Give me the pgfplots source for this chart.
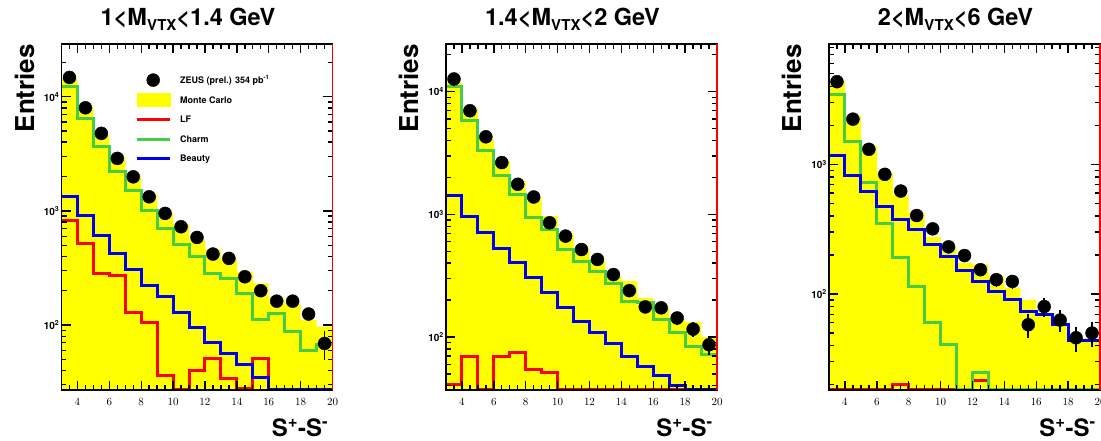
\documentclass[border=0pt]{standalone}
\usepackage{fontspec}
\setmainfont{TeX Gyre Heros}
\usepackage{pgfplots}
\usepackage{pgfplotstable}
\pgfplotsset{compat=1.18}

\definecolor{mcyellow}{RGB}{255,255,0}
\definecolor{lfred}{RGB}{255,0,0}
\definecolor{charmgreen}{RGB}{70,205,70}
\definecolor{beautyblue}{RGB}{0,0,240}

% Histograms: value of each bin at its left edge, last row repeats bin 19-20
\pgfplotstableread{
x  mc     lf   charm  beauty
3  14300  832  12400  1349
4  8200   519  6460   921
5  4600   284  3650   614
6  2980   270  2200   424
7  2060   128  1500   308
8  1390   105  1017   224
9  950    36   703    179
10 770    27   509    129
11 560    40   397    95
12 460    51   284    71
13 376    34   257    56
14 294    28   189    45
15 232    51   111    35
16 171    27   126    27
17 155    27   88     27
18 111    27   60     27
19 97     27   67     27
20 97     27   67     27
}\histA
\pgfplotstableread{
x     y      err
3.5   14770  200
4.5   8010   150
5.5   4780   110
6.5   2885   85
7.5   1990   70
8.5   1330   55
9.5   951    45
10.5  727    40
11.5  586    35
12.5  419    30
13.5  384    28
14.5  265    23
15.5  200    20
16.5  162    18
17.5  162    18
18.5  125    16
19.5  69     20
}\dataA

\pgfplotstableread{
x  mc     lf   charm  beauty
3  11800  41   11060  1413
4  7200   70   5800   968
5  4100   37   3300   708
6  2730   70   2060   524
7  1870   75   1457   403
8  1370   54   939    304
9  970    51   754    229
10 708    37   517    173
11 534    37   416    134
12 416    37   345    108
13 313    37   273    89
14 285    37   196    70
15 208    37   190    58
16 173    37   139    49
17 139    37   109    40
18 132    37   84     37
19 100    37   72     37
20 100    37   72     37
}\histB
\pgfplotstableread{
x     y      err
3.5   12700  200
4.5   7000   150
5.5   4290   110
6.5   2645   85
7.5   1760   70
8.5   1386   60
9.5   854    45
10.5  665    40
11.5  517    35
12.5  429    30
13.5  323    26
14.5  239    22
15.5  176    20
16.5  173    20
17.5  143    18
18.5  116    16
19.5  86.5   15
}\dataB

\pgfplotstableread{
x  mc    lf    charm  beauty
3  4400  18.2  3474   1160
4  2370  18.2  1489   813
5  1387  18.2  730    622
6  862   18.2  350    477
7  576   20.2  190    376
8  423   18.2  115    314
9  276   18.2  60     240
10 231   18.2  41     193
11 174   18.2  18.2   152
12 169   21.6  25     125
13 137   18.2  18.2   105
14 111   18.2  18.2   90
15 90    18.2  18.2   73
16 70    18.2  18.2   69
17 60    18.2  18.2   58
18 45    18.2  18.2   44
19 46    18.2  18.2   44
20 46    18.2  18.2   44
}\histC
\pgfplotstableread{
x     y     err
3.5   4340  90
4.5   2230  65
5.5   1306  50
6.5   837   40
7.5   622   35
8.5   403   28
9.5   318   25
10.5  231   21
11.5  198   19
12.5  154   17
13.5  129   15
14.5  125   15
15.5  58    12
16.5  80    13
17.5  63    12
18.5  46    10
19.5  50    11
}\dataC

\pgfplotsset{
  rootpanel/.style={
    axis on top,
    scale only axis, width=271pt, height=346pt, anchor=south west,
    xmin=3, xmax=20,
    xtick={4,6,...,20}, minor x tick num=3,
    xtick pos=both, ytick pos=both,
    xticklabel pos=lower, yticklabel pos=left,
    tick align=inside, major tick length=9pt, minor tick length=5pt,
    tick style={black, line width=1.4pt},
    axis line style={black, line width=1.8pt},
    xticklabel style={font=\fontsize{10.5}{11}\selectfont\bfseries, yshift=-5pt},
    yticklabel style={font=\fontsize{10}{11}\selectfont\bfseries, inner sep=2pt},
    xlabel={S\textsuperscript{+}-S\textsuperscript{-}},
    xlabel style={at={(axis description cs:1,0)}, anchor=base east, yshift=-47pt, xshift=-4pt,
      inner sep=0pt, font=\fontsize{24}{26}\selectfont\bfseries},
    ylabel={Entries},
    ylabel style={at={(axis description cs:-0.1365,1)}, anchor=east,
      inner sep=0pt, font=\fontsize{26}{28}\selectfont\bfseries},
    title style={at={(axis description cs:0.5,1)}, anchor=base, yshift=12pt, xshift=-9pt,
      inner sep=0pt, font=\fontsize{23.5}{25}\selectfont\bfseries},
  },
  mcfill/.style={const plot, fill=mcyellow, draw=none, mark=none, forget plot},
  hline/.style={const plot, line width=3pt, mark=none, line join=miter, forget plot},
}

\newcommand{\mvtx}[2]{#1<M\raisebox{-5pt}{\fontsize{15}{15}\selectfont VTX}<#2 GeV}

% Inward frame ticks on all four sides, drawn over the filled histogram.
% #1 ymin, #2 ymax, #3 minor y values, #4 decade values
\newcommand{\frameticks}[4]{%
  \pgfplotsinvokeforeach{3.5,4,...,19.5}{%
    \draw[black, line width=1.2pt] (axis cs:##1,#1) -- ++(0pt,5pt);
    \draw[black, line width=1.2pt] (axis cs:##1,#2) -- ++(0pt,-5pt);}%
  \pgfplotsinvokeforeach{4,6,...,20}{%
    \draw[black, line width=1.2pt] (axis cs:##1,#1) -- ++(0pt,9pt);
    \draw[black, line width=1.2pt] (axis cs:##1,#2) -- ++(0pt,-9pt);}%
  \pgfplotsinvokeforeach{#3}{%
    \draw[black, line width=1.2pt] (axis cs:3,##1) -- ++(5pt,0pt);
    \draw[black, line width=1.2pt] (axis cs:20,##1) -- ++(-5pt,0pt);}%
  \pgfplotsinvokeforeach{#4}{%
    \draw[black, line width=1.2pt] (axis cs:3,##1) -- ++(9pt,0pt);
    \draw[black, line width=1.2pt] (axis cs:20,##1) -- ++(-9pt,0pt);}%
}

\begin{document}
\begin{tikzpicture}
\useasboundingbox (0,0) rectangle (1101pt,441pt);
\clip (0,0) rectangle (1101pt,441pt);

% ---- 1 < M_VTX < 1.4 GeV ----
\begin{axis}[rootpanel, ymode=log, name=pA, at={(61.5pt,51pt)}, ymin=27, ymax=29000,
  ytick={100,1000,10000},
  yticklabels={10\textsuperscript{2},10\textsuperscript{3},10\textsuperscript{4}},
  title={\mvtx{1}{1.4}},
  legend style={at={(axis description cs:0.272,0.915)}, anchor=north west,
    draw=none, fill=none, inner sep=0pt, outer sep=0pt,
    font=\fontsize{9}{10}\selectfont\bfseries,
    row sep=6.5pt, column sep=9pt,
    nodes={inner sep=0pt, text height=9.5pt, text depth=3.5pt}},
  legend cell align=left]
  \addplot[mcfill] table[x=x,y=mc]{\histA} \closedcycle;
  \addplot[hline, lfred] table[x=x,y=lf]{\histA};
  \addplot[hline, charmgreen] table[x=x,y=charm]{\histA};
  \addplot[hline, beautyblue] table[x=x,y=beauty]{\histA};
  \frameticks{27}{29000}{30,40,50,60,70,80,90,200,300,400,500,600,700,800,900,2000,3000,4000,5000,6000,7000,8000,9000,20000}{100,1000,10000}
  \addplot[forget plot, only marks, mark=*, mark size=6.5pt, black,
    error bars/.cd, y dir=both, y explicit, error bar style={line width=1.6pt}, error mark=none]
    table[x=x,y=y,y error=err]{\dataA};
  \addlegendimage{black, legend image code/.code={\fill[black] (16.5pt,0pt) circle (6.5pt);}}
  \addlegendentry{ZEUS (prel.) 354 pb\textsuperscript{-1}}
  \addlegendimage{legend image code/.code={\fill[mcyellow] (0pt,-6.5pt) rectangle (33pt,6.5pt);}}
  \addlegendentry{Monte Carlo}
  \addlegendimage{legend image code/.code={\draw[lfred, line width=3pt] (0pt,0pt) -- (33pt,0pt);}}
  \addlegendentry{LF}
  \addlegendimage{legend image code/.code={\draw[charmgreen, line width=3pt] (0pt,0pt) -- (33pt,0pt);}}
  \addlegendentry{Charm}
  \addlegendimage{legend image code/.code={\draw[beautyblue, line width=3pt] (0pt,0pt) -- (33pt,0pt);}}
  \addlegendentry{Beauty}
\end{axis}
\draw[lfred, line width=1.2pt] (pA.south east) -- (pA.north east);

% ---- 1.4 < M_VTX < 2 GeV ----
\begin{axis}[rootpanel, ymode=log, name=pB, at={(446pt,51pt)}, ymin=37, ymax=24500,
  ytick={100,1000,10000},
  yticklabels={10\textsuperscript{2},10\textsuperscript{3},10\textsuperscript{4}},
  title={\mvtx{1.4}{2}}]
  \addplot[mcfill] table[x=x,y=mc]{\histB} \closedcycle;
  \addplot[hline, lfred] table[x=x,y=lf]{\histB};
  \addplot[hline, charmgreen] table[x=x,y=charm]{\histB};
  \addplot[hline, beautyblue] table[x=x,y=beauty]{\histB};
  \frameticks{37}{24500}{40,50,60,70,80,90,200,300,400,500,600,700,800,900,2000,3000,4000,5000,6000,7000,8000,9000,20000}{100,1000,10000}
  \addplot[forget plot, only marks, mark=*, mark size=6.5pt, black,
    error bars/.cd, y dir=both, y explicit, error bar style={line width=1.6pt}, error mark=none]
    table[x=x,y=y,y error=err]{\dataB};
\end{axis}
\draw[lfred, line width=1.2pt] (pB.south east) -- (pB.north east);

% ---- 2 < M_VTX < 6 GeV ----
\begin{axis}[rootpanel, ymode=log, name=pC, at={(829pt,51pt)}, ymin=18.2, ymax=8470,
  ytick={100,1000},
  yticklabels={10\textsuperscript{2},10\textsuperscript{3}},
  title={\mvtx{2}{6}}]
  \addplot[mcfill] table[x=x,y=mc]{\histC} \closedcycle;
  \addplot[hline, lfred] table[x=x,y=lf]{\histC};
  \addplot[hline, charmgreen] table[x=x,y=charm]{\histC};
  \addplot[hline, beautyblue] table[x=x,y=beauty]{\histC};
  \frameticks{18.2}{8470}{20,30,40,50,60,70,80,90,200,300,400,500,600,700,800,900,2000,3000,4000,5000,6000,7000,8000}{100,1000}
  \addplot[forget plot, only marks, mark=*, mark size=6.5pt, black,
    error bars/.cd, y dir=both, y explicit, error bar style={line width=1.6pt}, error mark=none]
    table[x=x,y=y,y error=err]{\dataC};
\end{axis}
\draw[lfred, line width=1.2pt] (pC.south east) -- (pC.north east);
\end{tikzpicture}
\end{document}
